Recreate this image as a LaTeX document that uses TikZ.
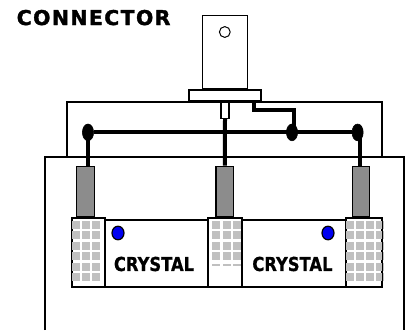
\documentclass[tikz,border=0pt]{standalone}
\usepackage{fontspec}
\setmainfont{DejaVu Sans}
\usepackage{tikz}
\usetikzlibrary{positioning,shapes}
\definecolor{cylgray}{RGB}{140,140,140}
\definecolor{cellgray}{RGB}{192,192,192}
\definecolor{dotblue}{RGB}{0,0,240}
\newfontfamily\labelfont[LetterSpace=7,FakeBold=1.6]{DejaVu Sans Bold}
\newfontfamily\xtalfont[FakeBold=0.8]{DejaVu Sans Bold}

\begin{document}
\begin{tikzpicture}[
  scale=1.0,
  node distance=0mm
]

  \path[use as bounding box] (0mm,0mm) rectangle (102mm,82.5mm);

  \tikzstyle{partnode}=[draw,rectangle,fill=white,line width=0.35mm,inner sep=0mm]
  \tikzstyle{cylnode}=[draw,rectangle,fill=cylgray,line width=0.3mm,inner sep=0mm,minimum width=4.4mm,minimum height=12.7mm]
  \tikzstyle{blocknode}=[draw,rectangle,line width=0.3mm,inner sep=0mm,minimum height=17.25mm]
  \tikzstyle{cellnode}=[fill=cellgray,inner sep=0mm,minimum width=2mm,minimum height=2mm]
  \tikzstyle{thincell}=[fill=cellgray,inner sep=0mm,minimum width=2mm,minimum height=0.6mm]
  \tikzstyle{joint}=[draw,ellipse,fill=black,inner sep=0mm,minimum width=2.8mm,minimum height=4.2mm]
  \tikzstyle{led}=[draw,ellipse,fill=dotblue,line width=0.3mm,inner sep=0mm,minimum width=3mm,minimum height=3.4mm]
  \tikzstyle{wire}=[draw,line width=1mm]
  \tikzstyle{casing}=[draw,line width=0.35mm]
  \tikzstyle{xtalname}=[font=\xtalfont\fontsize{4.8mm}{5mm}\selectfont,xscale=0.85,inner sep=0mm]

  % casing
  \coordinate (outerbl) at (11.25mm,0mm);
  \coordinate (outertl) at (11.25mm,43.25mm);
  \coordinate (outertr) at (101mm,43.25mm);
  \coordinate (outerbr) at (101mm,0mm);
  \coordinate (covertl) at (16.75mm,57mm);
  \coordinate (covertr) at (95.5mm,57mm);
  \coordinate (coverbl) at (16.75mm,43.25mm);
  \coordinate (coverbr) at (95.5mm,43.25mm);
  \path[casing] (outerbl) -- (outertl) -- (outertr) -- (outerbr);
  \path[casing] (coverbl) -- (covertl) -- (covertr) -- (coverbr);

  % connector
  \node[partnode,minimum width=18mm,minimum height=2.75mm] (flange) at (56.25mm,58.6mm) {};
  \node[partnode,minimum width=11.25mm,minimum height=18.25mm] (body) [above=of flange] {};
  \node[partnode,minimum width=2mm,minimum height=4mm] (pin) [below=of flange] {};
  \node[draw,circle,line width=0.25mm,minimum size=2.7mm,inner sep=0mm] (hole) at (56.2mm,74.5mm) {};

  % crystal band
  \node[partnode,minimum width=60.5mm,minimum height=16.75mm] (band) at (56.2mm,19.1mm) {};
  \node[led] (ledl) at (29.5mm,24.25mm) {};
  \node[led] (ledr) at (82mm,24.25mm) {};
  \node[xtalname] (xtall) at (38.5mm,16.5mm) {CRYSTAL};
  \node[xtalname] (xtalr) at (73.1mm,16.5mm) {CRYSTAL};

  % blocks
  \node[blocknode,fill=white,minimum width=8.25mm] (blockl) at (22.1mm,19.4mm) {};
  \node[blocknode,fill=white,minimum width=8.5mm] (blockm) at (56.25mm,19.4mm) {};
  \node[blocknode,fill=white,minimum width=9mm] (blockr) at (91mm,19.4mm) {};
  \foreach \row in {0,...,5} {
    \foreach \col in {0,1,2} {
      \node[cellnode] (cl\col\row) at ({19mm+\col*2.55mm},{26.25mm-\row*2.62mm}) {};
    }
    \foreach \col in {0,1,2,3} {
      \node[cellnode] (cr\col\row) at ({87.6mm+\col*2.45mm},{26.25mm-\row*2.62mm}) {};
    }
  }
  \foreach \col in {0,1,2} {
    \foreach \row in {0,...,3} {
      \node[cellnode] (cm\col\row) at ({54.1mm+\col*2.6mm},{26.25mm-\row*2.62mm}) {};
    }
    \node[thincell] (cm\col) at ({54.1mm+\col*2.6mm},16.25mm) {};
  }
  \path[draw,line width=0.4mm] (blockl.south west) rectangle (blockl.north east);
  \path[draw,line width=0.3mm] (blockm.south west) rectangle (blockm.north east);
  \path[draw,line width=0.4mm] (blockr.south west) rectangle (blockr.north east);

  % cylinders
  \node[cylnode] (cyll) at (21.4mm,34.6mm) {};
  \node[cylnode] (cylm) at (56.2mm,34.6mm) {};
  \node[cylnode] (cylr) at (90.25mm,34.6mm) {};

  % wiring
  \node[joint] (jointl) at (22mm,49.4mm) {};
  \node[joint] (jointm) at (73mm,49.4mm) {};
  \node[joint] (jointr) at (89.4mm,49.4mm) {};
  \path[wire] (jointl) -- (jointr);
  \path[wire] (jointl.center) -- (jointl.center |- cyll.north);
  \path[wire] (jointr.center) ++(0.5mm,0mm) -- ++(0mm,-8.4mm);
  \path[wire] (pin.south) -- (cylm.north);
  \coordinate (jogtop) at (63.6mm,57.2mm);
  \path[wire] (jogtop) |- (73.5mm,55mm) -- (73.5mm,49.4mm);

  \node[font=\labelfont\fontsize{5.1mm}{6mm}\selectfont,inner sep=0mm] (title) at (23.4mm,78.1mm) {CONNECTOR};

\end{tikzpicture}
\end{document}
